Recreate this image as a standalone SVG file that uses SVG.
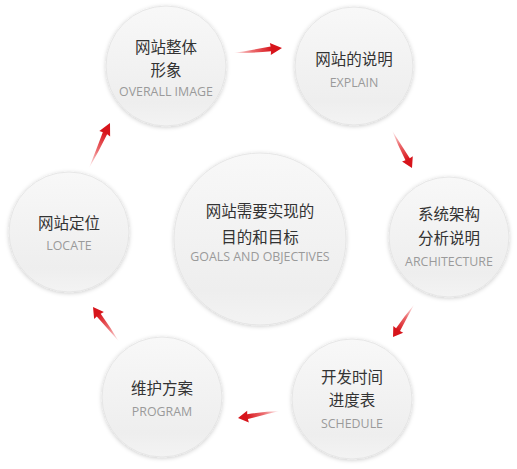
<svg xmlns="http://www.w3.org/2000/svg" xmlns:xlink="http://www.w3.org/1999/xlink" width="517" height="469" viewBox="0 0 517 469">
<style>
.c{fill:url(#cg);stroke:#e2e2e2;stroke-width:0.8;filter:url(#sh)}
.zh{font-family:"Noto Sans CJK SC","Noto Sans",sans-serif;font-size:15.5px;fill:#333;text-anchor:middle}
.en{font-family:"Open Sans","Noto Sans",sans-serif;font-size:12.4px;fill:#9a9a9a;text-anchor:middle}
</style>
<defs>
<linearGradient id="cg" x1="0" y1="0" x2="0" y2="1">
<stop offset="0" stop-color="#f8f8f8"/>
<stop offset="0.8" stop-color="#eeeeee"/>
<stop offset="1" stop-color="#f3f3f3"/>
</linearGradient>
<filter id="sh" x="-20%" y="-20%" width="140%" height="140%">
<feDropShadow dx="0" dy="1" stdDeviation="2.2" flood-color="#000" flood-opacity="0.2"/>
</filter>
<linearGradient id="ag" gradientUnits="userSpaceOnUse" x1="-48" y1="0" x2="-10" y2="0">
<stop offset="0" stop-color="#e8262b" stop-opacity="0"/>
<stop offset="0.5" stop-color="#e22a2e" stop-opacity="0.7"/>
<stop offset="1" stop-color="#d7141b"/>
</linearGradient>
<path id="arrow" fill="url(#ag)" d="M-48,1 Q-30,-0.5 -11,-2.4 L-11.5,-6 L0,0 L-11.5,6 L-11,2.4 Q-30,2.5 -48,1 Z"/>
</defs>
<rect width="517" height="469" fill="#fff"/>
<g id="connectors">
<use xlink:href="#arrow" transform="translate(282,48) rotate(-4.7) scale(1.02,1)"/>
<use xlink:href="#arrow" transform="translate(412,168) rotate(63.4) scale(0.89,1)"/>
<use xlink:href="#arrow" transform="translate(393,337) rotate(124.5) scale(0.81,1)"/>
<use xlink:href="#arrow" transform="translate(238,418) rotate(171.9) scale(0.88,1)"/>
<use xlink:href="#arrow" transform="translate(93,307) rotate(234.5) scale(0.9,1)"/>
<use xlink:href="#arrow" transform="translate(110,123) rotate(-63.9) scale(1.04,1)"/>
</g>
<g id="overall">
<circle class="c" cx="166" cy="66" r="60"/>
<text class="zh" x="166" y="53">网站整体</text>
<text class="zh" x="166" y="76">形象</text>
<text class="en" x="166" y="96">OVERALL IMAGE</text>
</g>
<g id="explain">
<circle class="c" cx="354" cy="66" r="59"/>
<text class="zh" x="354" y="65">网站的说明</text>
<text class="en" x="354" y="87">EXPLAIN</text>
</g>
<g id="architecture">
<circle class="c" cx="449" cy="237" r="60"/>
<text class="zh" x="449" y="220">系统架构</text>
<text class="zh" x="449" y="244">分析说明</text>
<text class="en" x="449" y="266">ARCHITECTURE</text>
</g>
<g id="schedule">
<circle class="c" cx="352" cy="399" r="60"/>
<text class="zh" x="352" y="383">开发时间</text>
<text class="zh" x="352" y="406">进度表</text>
<text class="en" x="352" y="428">SCHEDULE</text>
</g>
<g id="program">
<circle class="c" cx="162" cy="397" r="60"/>
<text class="zh" x="162" y="394">维护方案</text>
<text class="en" x="162" y="416">PROGRAM</text>
</g>
<g id="locate">
<circle class="c" cx="69" cy="232" r="60"/>
<text class="zh" x="69" y="229">网站定位</text>
<text class="en" x="69" y="250">LOCATE</text>
</g>
<g id="goals">
<circle class="c" cx="260" cy="239" r="86"/>
<text class="zh" x="260" y="217">网站需要实现的</text>
<text class="zh" x="260" y="243">目的和目标</text>
<text class="en" x="260" y="261">GOALS AND OBJECTIVES</text>
</g>
</svg>
